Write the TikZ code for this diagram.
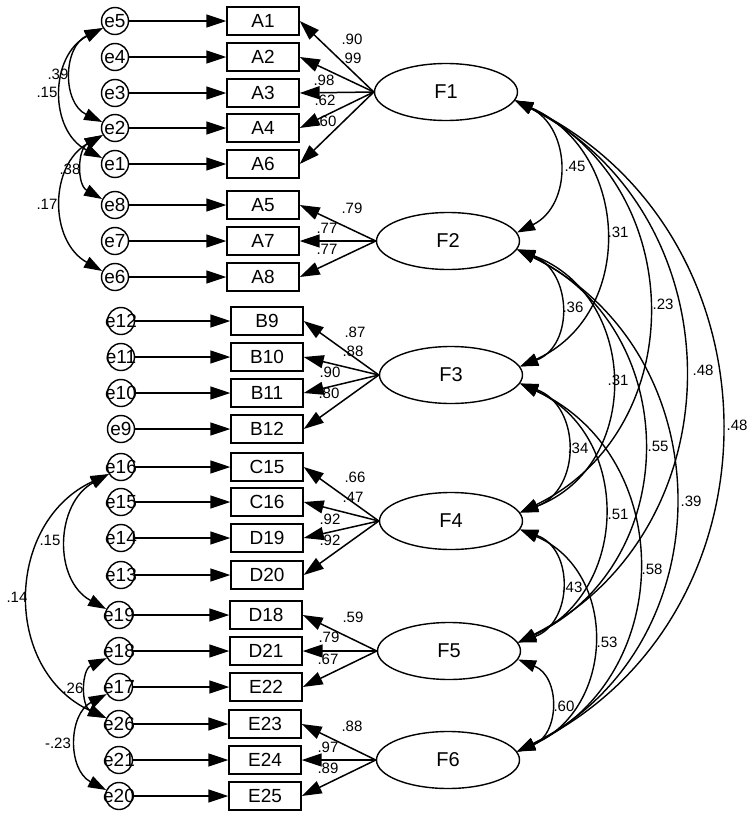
\documentclass[tikz,border=0pt]{standalone}
\usepackage{fontspec}
\setmainfont{Liberation Sans}
\usetikzlibrary{arrows.meta,shapes.geometric,calc}

\newcommand{\covarc}[4]{%
  \pgfmathsetmacro{\covT}{2*abs(#4)/#3}%
  \pgfmathsetmacro{\covK}{(1-\covT*\covT)/(2*\covT)}%
  \pgfmathsetmacro{\covHx}{4/3*#4}%
  \pgfmathsetmacro{\covHy}{4/3*abs(#4)*\covK}%
  \draw[cov] (#1) .. controls ($(#1)+(\covHx,\covHy)$) and ($(#2)+(\covHx,-\covHy)$) .. (#2);%
}

\tikzset{
  box/.style={draw, line width=1.4pt, minimum width=72pt, minimum height=28pt, inner sep=0pt, font=\fontsize{19}{21}\selectfont},
  err/.style={draw, circle, line width=1.4pt, minimum size=27pt, inner sep=0pt, font=\fontsize{19}{21}\selectfont},
  fac/.style={draw, ellipse, line width=1.4pt, minimum width=143pt, minimum height=57pt, inner sep=0pt, font=\fontsize{20}{22}\selectfont},
  lab/.style={font=\fontsize{15}{17}\selectfont, inner sep=0pt},
  load/.style={-{Triangle[length=20pt,width=13pt]}, line width=1.5pt},
  cov/.style={{Triangle[length=18pt,width=12pt]}-{Triangle[length=18pt,width=12pt]}, line width=1.4pt},
}

\begin{document}
\begin{tikzpicture}[x=1pt,y=-1pt]
\fill[white] (0,0) rectangle (753,817);
\useasboundingbox (0,0) rectangle (753,817);

% indicator boxes
\foreach \n/\y in {A1/21,A2/57,A3/93,A4/128,A6/164,A5/205,A7/241,A8/277}
  \node[box] (\n) at (263,\y) {\n};
\foreach \n/\y in {B9/321,B10/357,B11/393,B12/429,C15/467,C16/502,D19/538,D20/575}
  \node[box] (\n) at (267,\y) {\n};
\foreach \n/\y in {D18/615,D21/651,E22/687}
  \node[box] (\n) at (266,\y) {\n};
\foreach \n/\y in {E23/724,E24/760,E25/796}
  \node[box] (\n) at (265,\y) {\n};

% error terms
\foreach \e/\b/\y in {e5/A1/21,e4/A2/57,e3/A3/93,e2/A4/128,e1/A6/164,e8/A5/205,e7/A7/241,e6/A8/277}{
  \node[err] (\e) at (115,\y) {\makebox[0pt]{\e}};
  \draw[load] (\e) -- (\b);
}
\foreach \e/\b/\y in {e12/B9/321,e11/B10/357,e10/B11/393,e9/B12/429,e16/C15/467,e15/C16/502,e14/D19/538,e13/D20/575}{
  \node[err] (\e) at (121,\y) {\makebox[0pt]{\e}};
  \draw[load] (\e) -- (\b);
}
\foreach \e/\b/\y in {e19/D18/615,e18/D21/651,e17/E22/687,e26/E23/724,e21/E24/760,e20/E25/796}{
  \node[err] (\e) at (119,\y) {\makebox[0pt]{\e}};
  \draw[load] (\e) -- (\b);
}

% factors
\node[fac] (F1) at (446,92) {F1};
\node[fac] (F2) at (448,241) {F2};
\node[fac] (F3) at (451,375) {F3};
\node[fac] (F4) at (451,521) {F4};
\node[fac] (F5) at (449,651) {F5};
\node[fac] (F6) at (448,760) {F6};

% loadings
\foreach \b in {A1,A2,A3,A4,A6} \draw[load] (F1.west) -- (\b.east);
\foreach \b in {A5,A7,A8} \draw[load] (F2.west) -- (\b.east);
\foreach \b in {B9,B10,B11,B12} \draw[load] (F3.west) -- (\b.east);
\foreach \b in {C15,C16,D19,D20} \draw[load] (F4.west) -- (\b.east);
\foreach \b in {D18,D21,E22} \draw[load] (F5.west) -- (\b.east);
\foreach \b in {E23,E24,E25} \draw[load] (F6.west) -- (\b.east);

% loading labels
\node[lab] (l1) at (352,39) {.90};
\node[lab] (l2) at (351,58) {.99};
\node[lab] (l3) at (324,80) {.98};
\node[lab] (l4) at (325,100) {.62};
\node[lab] (l5) at (326,121) {.60};
\node[lab] (l6) at (352,208) {.79};
\node[lab] (l7) at (327,228) {.77};
\node[lab] (l8) at (327,249) {.77};
\node[lab] (l9) at (355,332) {.87};
\node[lab] (l10) at (353,351) {.88};
\node[lab] (l11) at (330,372) {.90};
\node[lab] (l12) at (329,393) {.80};
\node[lab] (l13) at (355,477) {.66};
\node[lab] (l14) at (353,497) {.47};
\node[lab] (l15) at (330,519) {.92};
\node[lab] (l16) at (330,540) {.92};
\node[lab] (l17) at (353,617) {.59};
\node[lab] (l18) at (329,637) {.79};
\node[lab] (l19) at (328,659) {.67};
\node[lab] (l20) at (352,726) {.88};
\node[lab] (l21) at (328,747) {.97};
\node[lab] (l22) at (328,768) {.89};

% factor covariances
\covarc{F1.353}{F2.7}{135}{42}
\covarc{F1.353}{F3.7}{269}{87}
\covarc{F1.353}{F4.7}{415}{130}
\covarc{F1.353}{F5.7}{545}{167}
\covarc{F1.353}{F6.7}{654}{204}
\covarc{F2.353}{F3.7}{120}{41}
\covarc{F2.353}{F4.7}{266}{92}
\covarc{F2.353}{F5.7}{396}{125}
\covarc{F2.353}{F6.7}{505}{157}
\covarc{F3.353}{F4.7}{132}{46}
\covarc{F3.353}{F5.7}{262}{84}
\covarc{F3.353}{F6.7}{371}{119}
\covarc{F4.353}{F5.7}{116}{41}
\covarc{F4.353}{F6.7}{225}{74}
\covarc{F5.353}{F6.7}{95}{32}

\node[lab] (c12) at (575,166) {.45};
\node[lab] (c13) at (618,232) {.31};
\node[lab] (c14) at (663,304) {.23};
\node[lab] (c15) at (703,370) {.48};
\node[lab] (c16) at (737,425) {.48};
\node[lab] (c23) at (573,307) {.36};
\node[lab] (c24) at (618,380) {.31};
\node[lab] (c25) at (658,446) {.55};
\node[lab] (c26) at (691,501) {.39};
\node[lab] (c34) at (578,448) {.34};
\node[lab] (c35) at (618,514) {.51};
\node[lab] (c36) at (652,569) {.58};
\node[lab] (c45) at (572,587) {.43};
\node[lab] (c46) at (607,642) {.53};
\node[lab] (c56) at (564,706) {.60};

% error covariances
\covarc{e5.210}{e2.155}{95}{-30}
\covarc{e5.210}{e1.155}{131}{-40}
\covarc{e2.210}{e8.155}{65}{-19}
\covarc{e2.210}{e6.155}{137}{-40}
\covarc{e16.210}{e19.155}{135}{-40}
\covarc{e16.210}{e26.155}{244}{-78}
\covarc{e18.210}{e26.155}{60}{-19}
\covarc{e17.210}{e20.155}{96}{-29}

\node[lab] (d1) at (58,74) {.39};
\node[lab] (d2) at (47,92) {.15};
\node[lab] (d3) at (70,169) {.38};
\node[lab] (d4) at (47,204) {.17};
\node[lab] (d5) at (50,540) {.15};
\node[lab] (d6) at (17,597) {.14};
\node[lab] (d7) at (73,688) {.26};
\node[lab] (d8) at (58,743) {-.23};
\end{tikzpicture}
\end{document}
